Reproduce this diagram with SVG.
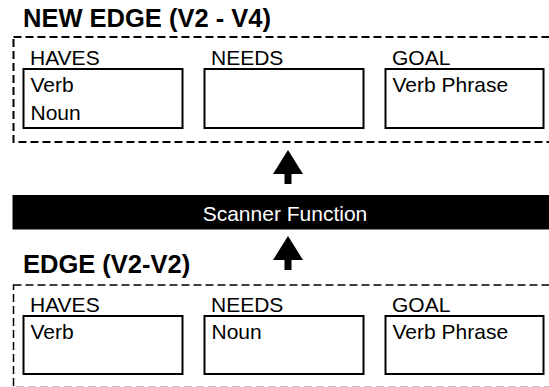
<svg xmlns="http://www.w3.org/2000/svg" width="549" height="387" viewBox="0 0 549 387">
  <style>
    .title { font-family: "Liberation Sans", Arial, sans-serif; font-weight: bold; font-size: 25.5px; fill: #000; }
    .label { font-family: "Liberation Sans", Arial, sans-serif; font-size: 21px; fill: #000; }
    .frame { fill: none; stroke: #000; stroke-width: 2; stroke-dasharray: 8 4; }
    .slot { fill: #fff; stroke: #000; stroke-width: 2; }
    .arrow { fill: #000; }
    .bar { fill: #000; }
    .barText { font-family: "Liberation Sans", Arial, sans-serif; font-size: 21px; fill: #fff; text-anchor: middle; }
  </style>
  <rect width="549" height="387" fill="#fff"/>

  <!-- Upper edge record -->
  <g id="new-edge">
    <text class="title" x="23" y="27">NEW EDGE (V2 - V4)</text>
    <rect class="frame" x="13.5" y="37" width="560" height="105"/>
    <g id="new-edge-haves">
      <text class="label" x="30" y="65">HAVES</text>
      <rect class="slot" x="23.5" y="69" width="159" height="59"/>
      <text class="label" x="30.5" y="92">Verb</text>
      <text class="label" x="30.5" y="120">Noun</text>
    </g>
    <g id="new-edge-needs">
      <text class="label" x="211" y="65">NEEDS</text>
      <rect class="slot" x="204.5" y="69" width="159" height="59"/>
    </g>
    <g id="new-edge-goal">
      <text class="label" x="392" y="65">GOAL</text>
      <rect class="slot" x="385.5" y="69" width="158" height="59"/>
      <text class="label" x="392.5" y="92">Verb Phrase</text>
    </g>
  </g>

  <!-- Scanner bar -->
  <g id="scanner">
    <rect class="bar" x="12.5" y="195" width="540" height="34.5"/>
    <text class="barText" x="285" y="221">Scanner Function</text>
  </g>

  <!-- Lower edge record -->
  <g id="edge">
    <text class="title" x="23" y="273">EDGE (V2-V2)</text>
    <rect class="frame" x="13.5" y="285" width="560" height="102.5" style="stroke-width:1.5"/>
    <g id="edge-haves">
      <text class="label" x="30" y="312">HAVES</text>
      <rect class="slot" x="23.5" y="316" width="159" height="58"/>
      <text class="label" x="30.5" y="338.5">Verb</text>
    </g>
    <g id="edge-needs">
      <text class="label" x="211" y="312">NEEDS</text>
      <rect class="slot" x="204.5" y="316" width="159" height="58"/>
      <text class="label" x="211.5" y="338.5">Noun</text>
    </g>
    <g id="edge-goal">
      <text class="label" x="392" y="312">GOAL</text>
      <rect class="slot" x="385.5" y="316" width="158" height="58"/>
      <text class="label" x="392.5" y="338.5">Verb Phrase</text>
    </g>
  </g>

  <!-- Connectors: block arrows pointing upward -->
  <g id="connectors">
    <path class="arrow" d="M288 150 L303 174 L291.5 174 L291.5 184 L284.5 184 L284.5 174 L273 174 Z"/>
    <path class="arrow" d="M288 236 L303 260 L291.5 260 L291.5 270 L284.5 270 L284.5 260 L273 260 Z"/>
  </g>
</svg>
